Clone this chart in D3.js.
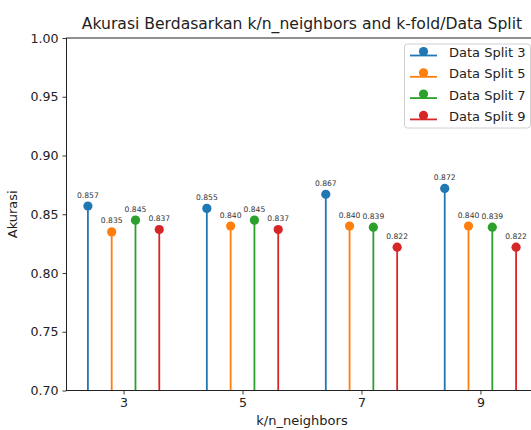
<!DOCTYPE html>
<html>
<head>
<meta charset="utf-8">
<script src="https://cdn.jsdelivr.net/npm/d3@7"></script>
<style>
  html, body { margin: 0; padding: 0; background: #fff; overflow: hidden; }
  svg { display: block; font-family: "DejaVu Sans", sans-serif; }
</style>
</head>
<body>
<svg id="chart" width="531" height="430"></svg>
<script>
// ---- data ----
const kValues = [3, 5, 7, 9];
const seriesNames = ["Data Split 3", "Data Split 5", "Data Split 7", "Data Split 9"];
const split3 = [0.857, 0.855, 0.867, 0.872];
const split5 = [0.835, 0.840, 0.840, 0.840];
const split7 = [0.845, 0.845, 0.839, 0.839];
const split9 = [0.837, 0.837, 0.822, 0.822];
const yTicks = [0.70, 0.75, 0.80, 0.85, 0.90, 0.95, 1.00];
const xTicks = [3, 5, 7, 9];
const titleText = "Akurasi Berdasarkan k/n_neighbors and k-fold/Data Split";
const xLabel = "k/n_neighbors";
const yLabel = "Akurasi";

const seriesValues = [split3, split5, split7, split9];
const colors = ["#1f77b4", "#ff7f0e", "#2ca02c", "#d62728"];
const offsets = [-0.6, -0.2, 0.2, 0.6];

// ---- layout ----
const svg = d3.select("#chart");
const pLeft = 66.5, pRight = 537.5, pTop = 38, pBottom = 390.5;

const x = d3.scaleLinear().domain([2.04, 9.96]).range([pLeft, pRight]);
const y = d3.scaleLinear().domain([0.70, 1.00]).range([pBottom, pTop]);

const plot = svg.append("g");

// stems
seriesValues.forEach((vals, si) => {
  const g = plot.append("g");
  vals.forEach((v, i) => {
    const xv = kValues[i] + offsets[si];
    g.append("line")
      .attr("x1", x(xv)).attr("x2", x(xv))
      .attr("y1", y(0.70)).attr("y2", y(v))
      .attr("stroke", colors[si]).attr("stroke-width", 1.8);
    g.append("circle")
      .attr("cx", x(xv)).attr("cy", y(v)).attr("r", 4.6)
      .attr("fill", colors[si]);
    g.append("text")
      .attr("x", x(xv)).attr("y", y(v) - 8.5)
      .attr("text-anchor", "middle")
      .attr("font-size", "7.6px")
      .attr("fill", "#333")
      .text(v.toFixed(3));
  });
});

// axes
const yAxis = d3.axisLeft(y).tickValues(yTicks).tickFormat(d3.format(".2f")).tickSize(4).tickPadding(4);
const gy = svg.append("g").attr("transform", `translate(${pLeft},0)`).call(yAxis);
const xAxis = d3.axisBottom(x).tickValues(xTicks).tickFormat(d3.format("d")).tickSize(4).tickPadding(4);
const gx = svg.append("g").attr("transform", `translate(0,${pBottom})`).call(xAxis);
[gx, gy].forEach(g => {
  g.select(".domain").remove();
  g.selectAll("text").attr("font-size", "12.6px").attr("fill", "#222").attr("font-family", "DejaVu Sans, sans-serif");
  g.selectAll("line").attr("stroke", "#222").attr("stroke-width", 0.9);
});

// spines
svg.append("rect")
  .attr("x", pLeft).attr("y", pTop).attr("width", pRight - pLeft).attr("height", pBottom - pTop)
  .attr("fill", "none").attr("stroke", "#222").attr("stroke-width", 1);

// title & labels
svg.append("text").attr("x", (pLeft + pRight) / 2).attr("y", 28.5)
  .attr("text-anchor", "middle").attr("font-size", "15.6px").attr("fill", "#222").text(titleText);
svg.append("text").attr("x", (pLeft + pRight) / 2).attr("y", 425)
  .attr("text-anchor", "middle").attr("font-size", "13px").attr("fill", "#222").text(xLabel);
svg.append("text").attr("transform", `translate(17,${(pTop + pBottom) / 2}) rotate(-90)`)
  .attr("text-anchor", "middle").attr("font-size", "13px").attr("fill", "#222").text(yLabel);

// legend
const lg = svg.append("g");
lg.append("rect").attr("x", 404.5).attr("y", 44).attr("width", 126).attr("height", 84)
  .attr("rx", 3).attr("fill", "#fff").attr("fill-opacity", 0.8)
  .attr("stroke", "#d0d0d0").attr("stroke-width", 1);
seriesNames.forEach((name, i) => {
  const cy = 52.5 + i * 21.3;
  lg.append("line").attr("x1", 410).attr("x2", 437).attr("y1", cy + 3).attr("y2", cy + 3)
    .attr("stroke", colors[i]).attr("stroke-width", 1.8);
  lg.append("line").attr("x1", 423.5).attr("x2", 423.5).attr("y1", cy + 3).attr("y2", cy)
    .attr("stroke", colors[i]).attr("stroke-width", 1.8);
  lg.append("circle").attr("cx", 423.5).attr("cy", cy - 1).attr("r", 4.6).attr("fill", colors[i]);
  lg.append("text").attr("x", 449).attr("y", cy + 4.6).attr("font-size", "13px").attr("fill", "#222").text(name);
});
</script>
</body>
</html>
